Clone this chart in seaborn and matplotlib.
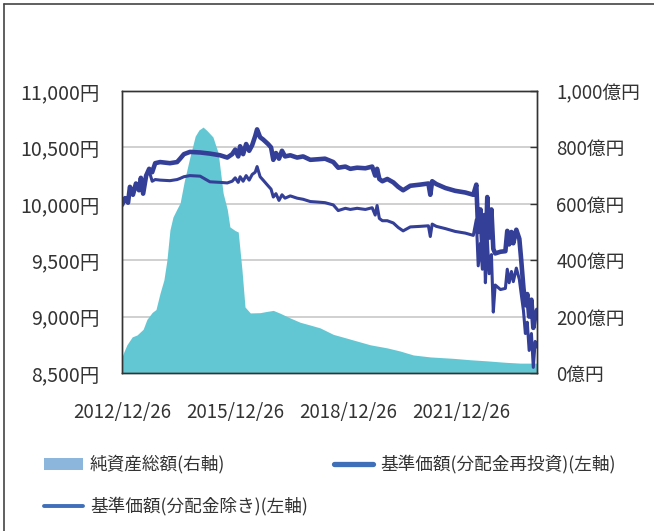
import numpy as np
import pandas as pd
import seaborn as sns
import matplotlib.pyplot as plt
import matplotlib.dates as mdates
from matplotlib.lines import Line2D
from matplotlib.patches import Patch
from matplotlib.ticker import FixedLocator, FuncFormatter

start = pd.Timestamp("2012-12-26")

# net assets (億円), years after 2012/12/26
asset_years = [0.00, 0.05, 0.13, 0.27, 0.40, 0.56, 0.66, 0.80, 0.90, 1.01, 1.11, 1.19, 1.27,
               1.35, 1.45, 1.54, 1.65, 1.80, 1.94, 2.04, 2.15, 2.25, 2.41, 2.55, 2.68, 2.79,
               2.86, 3.00, 3.08, 3.18, 3.26, 3.40, 3.66, 3.82, 4.01, 4.19, 4.46, 4.72, 4.99,
               5.25, 5.60, 5.92, 6.13, 6.58, 7.03, 7.37, 7.72, 8.17, 8.78, 9.23, 9.68, 10.16,
               10.56, 11.00]
asset_values = [57, 75, 100, 128, 135, 155, 190, 215, 225, 284, 330, 400, 507,
                553, 580, 603, 680, 766, 840, 862, 872, 860, 837, 780, 638, 580,
                518, 505, 500, 365, 234, 213, 214, 218, 222, 212, 195, 180, 170,
                160, 137, 125, 117, 100, 89, 78, 64, 57, 52, 47, 43, 38,
                35, 35]

# NAV (円), years after 2012/12/26
nav_years = [0.00, 0.08, 0.16, 0.21, 0.29, 0.37, 0.45, 0.50, 0.56, 0.64,
             0.72, 0.80, 0.88, 1.01, 1.27, 1.46, 1.54, 1.64, 1.80, 2.07,
             2.33, 2.60, 2.79, 2.92, 3.00, 3.08, 3.13, 3.21, 3.29, 3.37,
             3.45, 3.53, 3.58, 3.66, 3.74, 3.87, 3.95, 4.01, 4.08, 4.16,
             4.24, 4.32, 4.46, 4.64, 4.80, 4.99, 5.20, 5.38, 5.60, 5.73,
             5.92, 6.05, 6.23, 6.45, 6.63, 6.71, 6.76, 6.82, 6.90, 7.03,
             7.19, 7.32, 7.45, 7.64, 7.90, 8.12, 8.17, 8.22, 8.33, 8.57,
             8.83, 9.10, 9.31, 9.39, 9.44, 9.50, 9.55, 9.60, 9.63, 9.68,
             9.73, 9.79, 9.84, 9.89, 10.03, 10.16, 10.21, 10.26, 10.32, 10.37,
             10.45, 10.53, 10.58, 10.64, 10.69, 10.74, 10.79, 10.85, 10.90, 10.95, 11.00]
nav_reinvest = [9990, 10050, 10010, 10150, 10080, 10180, 10120, 10230, 10090, 10250,
                10310, 10280, 10360, 10370, 10360, 10370, 10400, 10440, 10460, 10455,
                10445, 10430, 10410, 10440, 10480, 10420, 10510, 10440, 10530, 10470,
                10520, 10600, 10660, 10590, 10570, 10530, 10500, 10390, 10450, 10400,
                10470, 10420, 10430, 10410, 10420, 10390, 10395, 10400, 10370, 10320,
                10330, 10310, 10320, 10315, 10330, 10250, 10310, 10220, 10200, 10220,
                10190, 10150, 10120, 10160, 10170, 10180, 10080, 10200, 10175, 10140,
                10115, 10100, 10080, 10170, 9750, 9950, 9600, 9900, 9440, 10060,
                9700, 9950, 9600, 9560, 9575, 9580, 9760, 9640, 9750, 9650,
                9770, 9690, 9500, 9250, 9100, 9200, 9000, 9150, 8900, 9000, 9060]
nav_plain = [9990, 10050, 10010, 10150, 10080, 10180, 10120, 10230, 10090, 10250,
             10290, 10200, 10215, 10210, 10205, 10215, 10225, 10240, 10250, 10245,
             10195, 10190, 10185, 10200, 10230, 10190, 10240, 10200, 10250, 10210,
             10260, 10280, 10330, 10240, 10210, 10160, 10130, 10060, 10090, 10030,
             10080, 10050, 10070, 10050, 10040, 10020, 10015, 10010, 9990, 9940,
             9960, 9950, 9960, 9950, 9965, 9900, 9985, 9870, 9850, 9850,
             9830, 9790, 9760, 9795, 9800, 9805, 9710, 9820, 9800, 9780,
             9755, 9740, 9720, 9860, 9450, 9650, 9420, 9700, 9300, 9690,
             9380, 9550, 9040, 9280, 9240, 9250, 9420, 9300, 9400, 9310,
             9430, 9330, 9200, 9050, 8850, 8950, 8700, 8850, 8550, 8780, 8730]

left_ticks = [8500, 9000, 9500, 10000, 10500, 11000]
right_ticks = [0, 200, 400, 600, 800, 1000]
label_dates = ["2012-12-26", "2015-12-26", "2018-12-26", "2021-12-26"]
year_ticks = [f"{y}-12-26" for y in range(2012, 2024)]

legend_labels = ["純資産総額(右軸)", "基準価額(分配金除き)(左軸)", "基準価額(分配金再投資)(左軸)"]


def to_dates(years):
    return start + pd.to_timedelta(np.array(years) * 365.25, unit="D")


assets = pd.DataFrame({"date": to_dates(asset_years), "value": asset_values})
nav = pd.DataFrame({"date": to_dates(nav_years), "reinvest": nav_reinvest, "plain": nav_plain})

sns.set_theme(style="white")
plt.rcParams["font.family"] = ["Noto Sans CJK JP", "DejaVu Sans"]

fig = plt.figure(figsize=(6.54, 5.31), dpi=100)
ax = fig.add_axes([122 / 654, 1 - 373 / 531, 415 / 654, 282 / 531])
ax2 = ax.twinx()
ax.set_zorder(2)
ax2.set_zorder(1)
ax.patch.set_visible(False)

line_color = "#343f97"
ax2.fill_between(assets["date"], 0, assets["value"], color="#63c7d3", lw=0, zorder=2)
ax2.set_ylim(0, 1000)
ax2.yaxis.set_major_locator(FixedLocator(right_ticks))
ax2.yaxis.set_major_formatter(FuncFormatter(lambda v, p: f"{v:,.0f}億円"))
ax2.yaxis.grid(True, color="#c8c8c8", lw=1.2, zorder=0)
ax2.set_axisbelow(True)

sns.lineplot(data=nav, x="date", y="plain", ax=ax, color=line_color, lw=2.2, estimator=None)
sns.lineplot(data=nav, x="date", y="reinvest", ax=ax, color=line_color, lw=3.3, estimator=None)
ax.set_ylim(8500, 11000)
ax.yaxis.set_major_locator(FixedLocator(left_ticks))
ax.yaxis.set_major_formatter(FuncFormatter(lambda v, p: f"{v:,.0f}円"))
ax.set_xlim(start, start + pd.Timedelta(days=int(11 * 365.25)))
ax.set_xlabel("")
ax.set_ylabel("")
ax2.set_ylabel("")

ax.xaxis.set_major_locator(FixedLocator(mdates.date2num(pd.to_datetime(label_dates))))
ax.xaxis.set_major_formatter(mdates.DateFormatter("%Y/%m/%d"))
ax.xaxis.set_minor_locator(FixedLocator(mdates.date2num(pd.to_datetime(year_ticks))))

ax.tick_params(axis="x", which="both", direction="in", length=4, width=1, color="#333333",
               pad=21, labelsize=13.5, labelcolor="#333333")
ax.tick_params(axis="y", length=0, pad=16, labelsize=14, labelcolor="#333333")
ax2.tick_params(axis="y", direction="in", length=5, width=1, color="#333333",
                pad=14, labelsize=13.5, labelcolor="#333333")

for a in (ax, ax2):
    for s in a.spines.values():
        s.set_color("#333333")
        s.set_linewidth(1.0)

handles = [Patch(color="#8cb6dc", lw=0),
           Line2D([], [], color="#3f6fb9", lw=2.8, solid_capstyle="round"),
           Line2D([], [], color="#3f6fb9", lw=3.8, solid_capstyle="round")]
fig.legend(handles, legend_labels, loc="upper left", bbox_to_anchor=(44 / 654, 1 - 455 / 531),
           ncol=2, frameon=False, fontsize=12.7, handlelength=2.2, handletextpad=0.4,
           columnspacing=1.5, labelspacing=1.3, borderpad=0, borderaxespad=0,
           labelcolor="#333333")

# outer frame
fig.add_artist(Line2D([4 / 654, 4 / 654], [0, 1 - 4 / 531], color="#444444", lw=1.2))
fig.add_artist(Line2D([4 / 654, 1], [1 - 4 / 531, 1 - 4 / 531], color="#444444", lw=1.2))

fig.savefig("out.png", dpi=100)
